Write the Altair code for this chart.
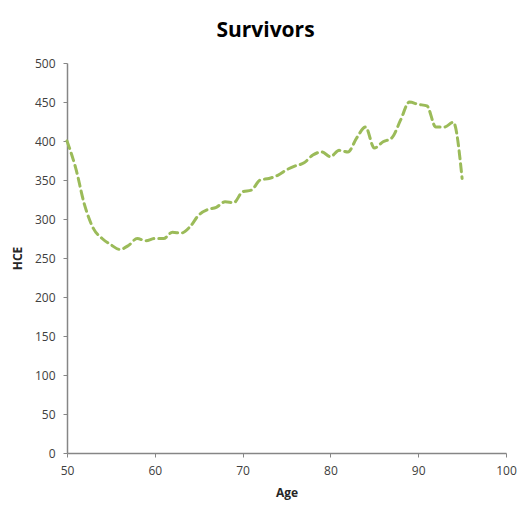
import altair as alt
import pandas as pd

ages = list(range(50, 96))
hce = [400, 365, 318, 288, 275, 267, 261, 266, 275, 272,
       275, 275, 283, 282, 290, 305, 312, 315, 322, 321,
       335, 337, 350, 352, 356, 363, 368, 372, 382, 386,
       380, 388, 386, 404, 418, 391, 399, 404, 427, 450,
       447, 445, 418, 418, 424, 352]

df = pd.DataFrame({"Age": ages, "HCE": hce})

axis_common = dict(
    grid=False,
    domainColor="#868686",
    domainWidth=1.5,
    tickColor="#868686",
    tickSize=4,
    labelFlush=False,
    labelFont="Open Sans",
    labelFontSize=12,
    labelColor="#404040",
    titleFont="Open Sans",
    titleFontSize=12,
    titleFontWeight="bold",
    titleColor="#262626",
)

chart = alt.Chart(df).mark_line(
    color="#9BBB59",
    strokeWidth=3,
    strokeDash=[8, 5],
    strokeCap="round",
    interpolate="monotone",
).encode(
    x=alt.X("Age:Q", scale=alt.Scale(domain=[50, 100], nice=False),
            axis=alt.Axis(values=[50, 60, 70, 80, 90, 100], labelPadding=8,
                          titlePadding=11, **axis_common)),
    y=alt.Y("HCE:Q", scale=alt.Scale(domain=[0, 500], nice=False),
            axis=alt.Axis(values=list(range(0, 501, 50)), labelPadding=8,
                          titlePadding=10, **axis_common)),
).properties(
    width=439,
    height=390,
    autosize=alt.AutoSizeParams(type="none"),
    padding={"left": 59, "top": 55, "right": 14, "bottom": 47},
    title=alt.TitleParams("Survivors", font="Open Sans", fontSize=21,
                          fontWeight="bold", color="#000000", offset=16, dx=-21),
).configure_view(stroke=None)

chart.save("out.html", embed_options={"renderer": "svg", "actions": False})
